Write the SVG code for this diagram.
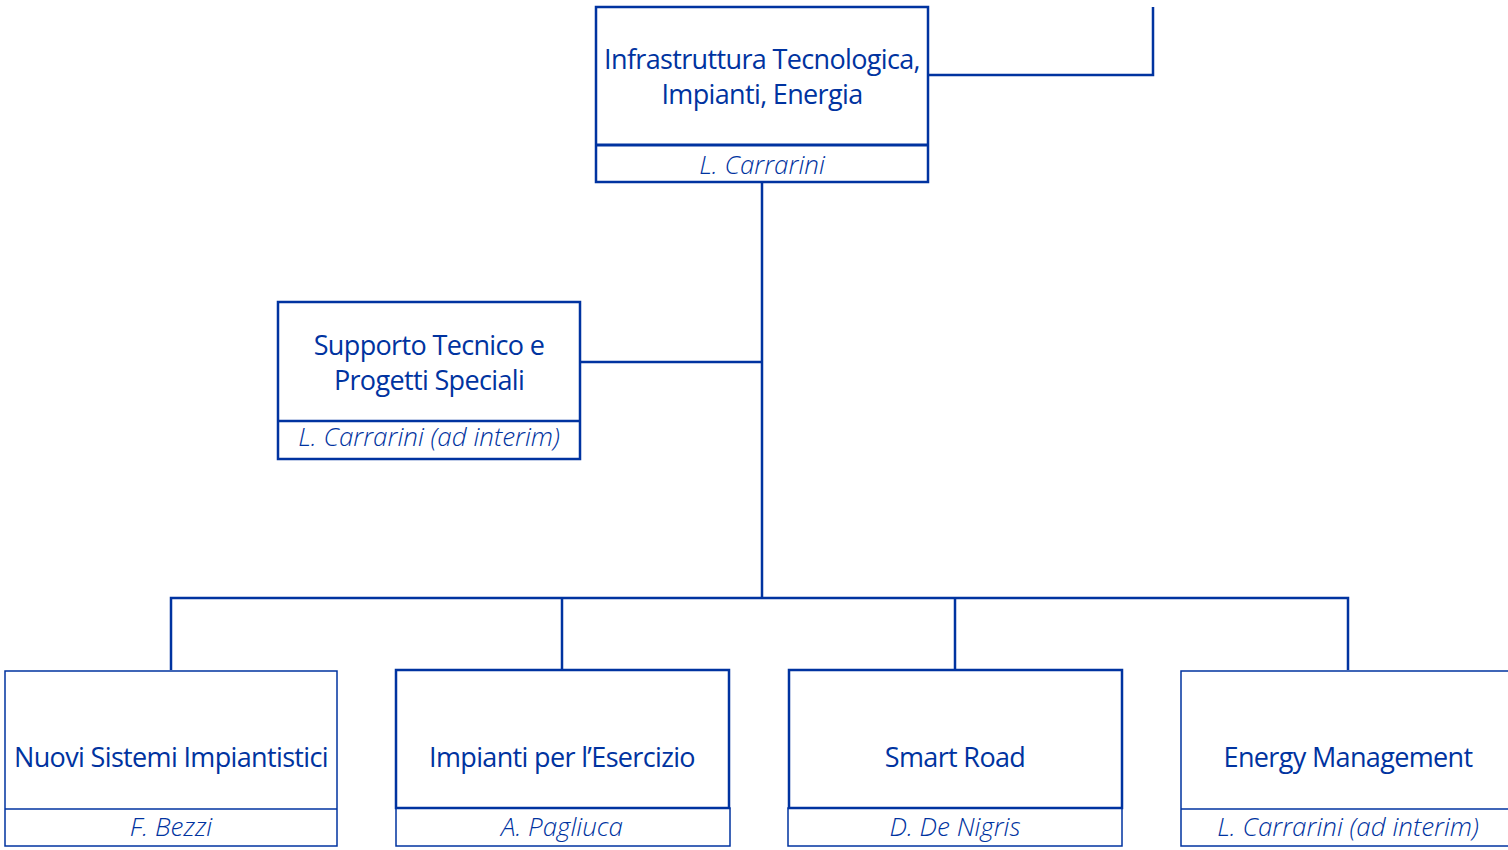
<svg xmlns="http://www.w3.org/2000/svg" width="1508" height="850" viewBox="0 0 1508 850">
<style>
.bx{fill:#fff;stroke:#0033a0;stroke-width:2.5}
.bt{fill:#fff;stroke:#0033a0;stroke-width:1.5}
.ln{fill:none;stroke:#0033a0;stroke-width:2.5}
.t{font-family:"Open Sans","Noto Sans",sans-serif;font-size:27px;letter-spacing:-0.65px;fill:#0033a0;text-anchor:middle}
.n{font-family:"Open Sans","Noto Sans",sans-serif;font-size:26px;font-style:italic;font-weight:300;fill:#0033a0;text-anchor:middle}
</style>
<rect width="1508" height="850" fill="#fff"/>
<g id="connectors">
<path class="ln" d="M928 75H1153V7"/>
<path class="ln" d="M762 182V598"/>
<path class="ln" d="M580 362H762"/>
<path class="ln" d="M171 670V598H1348V670"/>
<path class="ln" d="M562 598V670"/>
<path class="ln" d="M955 598V670"/>
</g>
<g id="n-infra">
<rect class="bx" x="596" y="7" width="332" height="175"/>
<line x1="596" y1="145" x2="928" y2="145" stroke="#0033a0" stroke-width="3"/>
<text class="t" x="762" y="69">Infrastruttura Tecnologica,</text>
<text class="t" x="762" y="104">Impianti, Energia</text>
<text class="n" x="762" y="174">L. Carrarini</text>
</g>
<g id="n-supporto">
<rect class="bx" x="278" y="302" width="302" height="157"/>
<line x1="278" y1="421" x2="580" y2="421" stroke="#0033a0" stroke-width="2.5"/>
<text class="t" x="429" y="355">Supporto Tecnico e</text>
<text class="t" x="429" y="390">Progetti Speciali</text>
<text class="n" x="429" y="446">L. Carrarini (ad interim)</text>
</g>
<g id="n-nuovi">
<rect class="bt" x="5" y="671" width="332" height="175"/>
<line x1="5" y1="809" x2="337" y2="809" stroke="#0033a0" stroke-width="1.5"/>
<text class="t" x="171" y="767">Nuovi Sistemi Impiantistici</text>
<text class="n" x="171" y="836">F. Bezzi</text>
</g>
<g id="n-impianti">
<rect class="bt" x="396" y="808" width="334" height="38"/>
<rect class="bx" x="396" y="670" width="333" height="138"/>
<text class="t" x="562" y="767">Impianti per l’Esercizio</text>
<text class="n" x="562" y="836">A. Pagliuca</text>
</g>
<g id="n-smart">
<rect class="bt" x="788" y="808" width="334" height="38"/>
<rect class="bx" x="789" y="670" width="333" height="138"/>
<text class="t" x="955" y="767">Smart Road</text>
<text class="n" x="955" y="836">D. De Nigris</text>
</g>
<g id="n-energy">
<rect class="bt" x="1181" y="671" width="340" height="175"/>
<line x1="1181" y1="809" x2="1508" y2="809" stroke="#0033a0" stroke-width="1.5"/>
<text class="t" x="1348" y="767">Energy Management</text>
<text class="n" x="1348" y="836">L. Carrarini (ad interim)</text>
</g>
</svg>
